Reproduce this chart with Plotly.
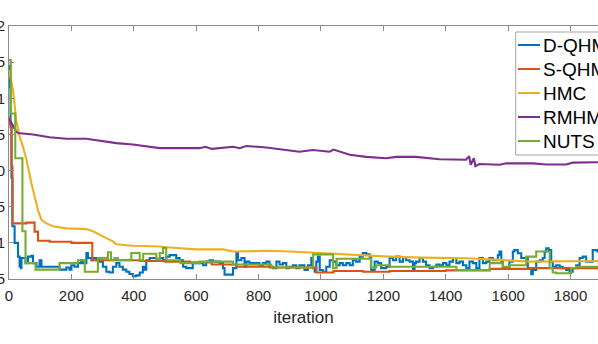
import plotly.graph_objects as go

# MATLAB-ish convergence plot (cropped left/right like the source figure)

names = ['D-QHM', 'S-QHM', 'HMC', 'RMHMC', 'NUTS']
colors = ['#0072BD', '#D95319', '#EDB120', '#7E2F8E', '#77AC30']

dqhm_iter = [0, 2, 5, 8, 11, 18, 29, 34, 39, 40, 53, 61, 72, 77, 88, 98, 104, 162, 184, 194,
             200, 210, 221, 231, 237, 248, 253, 264, 269, 280, 290, 301, 312, 322, 333, 344, 354,
             365, 376, 386, 397, 408, 419, 429, 435, 440, 451, 472, 483, 494, 504, 515, 536, 547,
             558, 568, 589,
             600, 622, 632, 643, 654, 675, 686, 691, 718, 729, 734, 745, 755, 761, 771, 803, 814,
             825, 835, 846, 857, 867, 878, 889, 899, 910, 921, 931, 947, 958, 969, 974, 980, 985,
             990, 996, 1006, 1017, 1028, 1038, 1049, 1060, 1070, 1081, 1092, 1102, 1113, 1124,
             1134, 1145, 1156, 1161, 1172, 1182, 1193, 1209,
             1220, 1231, 1241, 1252, 1263, 1273, 1284, 1295, 1300, 1305, 1316, 1327, 1337, 1348,
             1359, 1370, 1380, 1391, 1402, 1412, 1423, 1434, 1444, 1455, 1466, 1476, 1487, 1498,
             1508, 1519, 1530, 1540, 1551, 1567, 1572, 1578, 1583, 1604, 1615, 1620, 1631, 1642,
             1663, 1674, 1679, 1690, 1701, 1711, 1717, 1722, 1730, 1738, 1743, 1754, 1765, 1775,
             1786, 1797, 1807, 1818, 1829, 1839, 1850, 1871, 1886, 1900, 1930, 1960, 2000]
dqhm_val = [1.45, 1.15, 0.6, -0.1, -0.77, -1.0, -1.19, -1.33, -1.35, -1.21, -1.28, -1.19, -1.18,
            -1.28, -1.33, -1.24, -1.33, -1.37, -1.34, -1.37, -1.31, -1.33, -1.28, -1.24, -1.28,
            -1.14, -1.21, -1.24, -1.21, -1.24, -1.26, -1.33, -1.40, -1.41, -1.33, -1.28, -1.33,
            -1.37, -1.40, -1.43, -1.46, -1.45, -1.41, -1.33, -1.37, -1.24, -1.21, -1.24, -1.21,
            -1.24, -1.19, -1.17, -1.21, -1.24, -1.33, -1.35, -1.28,
            -1.28, -1.31, -1.26, -1.24, -1.26, -1.28, -1.35, -1.44, -1.35, -1.14, -1.24, -1.21,
            -1.33, -1.26, -1.28, -1.31, -1.28, -1.26, -1.33, -1.35, -1.26, -1.30, -1.28, -1.35,
            -1.33, -1.31, -1.35, -1.31, -1.375, -1.31, -1.21, -1.35, -1.40, -1.26, -1.19, -1.375,
            -1.40, -1.33, -1.24, -1.26, -1.31, -1.28, -1.31, -1.28, -1.31, -1.24, -1.26, -1.19,
            -1.14, -1.16, -1.19, -1.375, -1.26, -1.28, -1.35, -1.33,
            -1.21, -1.24, -1.19, -1.26, -1.20, -1.24, -1.26, -1.36, -1.28, -1.26, -1.21, -1.26,
            -1.31, -1.35, -1.33, -1.30, -1.31, -1.28, -1.31, -1.26, -1.21, -1.28, -1.26, -1.31,
            -1.35, -1.26, -1.28, -1.35, -1.21, -1.28, -1.26, -1.21, -1.24, -1.17, -1.12, -1.26,
            -1.35, -1.26, -1.12, -1.10, -1.144, -1.21, -1.35, -1.435, -1.375, -1.26, -1.24, -1.21,
            -1.12, -1.075, -1.10, -1.26, -1.33, -1.31, -1.33, -1.35, -1.375, -1.40, -1.35, -1.31,
            -1.21, -1.19, -1.26, -1.10, -1.12, -1.15, -1.22, -1.18, -1.20]

sqhm_iter = [0, 3, 8, 11, 56, 82, 93, 130, 200, 267, 419, 500, 580, 650, 729, 836, 985, 1040,
             1135, 1220, 1400, 1541, 1669, 1900, 2000]
sqhm_val = [0.73, 0.64, 0.06, -0.73, -0.72, -0.845, -0.97, -0.985, -1.0, -1.24, -1.25, -1.26,
            -1.27, -1.30, -1.33, -1.34, -1.41, -1.39, -1.40, -1.39, -1.38, -1.36, -1.35, -1.35,
            -1.35]

hmc_iter = [0, 13, 23, 34, 45, 56, 72, 82, 93, 104, 120, 141, 184, 248, 269, 301, 333, 344, 397,
            483, 504, 600, 687, 718, 836, 900, 1006, 1135, 1220, 1327, 1467, 1573, 1669, 1887,
            2000]
hmc_val = [1.39, 1.11, 0.70, 0.47, 0.33, 0.15, -0.18, -0.36, -0.55, -0.68, -0.73, -0.77, -0.80,
           -0.81, -0.84, -0.91, -0.98, -1.02, -1.04, -1.05, -1.06, -1.09, -1.09, -1.12, -1.11,
           -1.12, -1.144, -1.176, -1.19, -1.204, -1.213, -1.236, -1.26, -1.25, -1.25]

rmhmc_iter = [0, 13, 23, 29, 77, 130, 184, 248, 290, 344, 397, 451, 483, 611, 630, 650, 718, 740,
              760, 825, 878, 931, 974, 1000, 1028, 1040, 1092, 1145, 1209, 1241, 1305, 1380, 1465,
              1475, 1480, 1490, 1495, 1508, 1572, 1594, 1679, 1722, 1786, 1807, 1887, 2000]
rmhmc_val = [0.72, 0.62, 0.54, 0.52, 0.50, 0.46, 0.44, 0.44, 0.41, 0.38, 0.36, 0.33, 0.31, 0.31,
             0.33, 0.30, 0.33, 0.31, 0.34, 0.32, 0.29, 0.26, 0.285, 0.27, 0.26, 0.29, 0.22, 0.19,
             0.17, 0.19, 0.19, 0.156, 0.15, 0.20, 0.08, 0.17, 0.06, 0.09, 0.08, 0.10, 0.10, 0.085,
             0.085, 0.11, 0.115, 0.12]

nuts_iter = [0, 6, 20, 43, 53, 85, 162, 221, 243, 285, 317, 327, 338, 349, 392, 419, 430, 472,
             483, 494, 504, 550, 611, 718, 841, 975, 1039, 1050, 1160, 1177, 1220, 1434, 1541,
             1583, 1604, 1658, 1690, 1733, 1743, 1754, 1802, 1818, 2000]
nuts_val = [1.53, 0.79, 0.17, -0.84, -1.28, -1.37, -1.28, -1.24, -1.40, -1.21, -1.13, -1.24,
            -1.21, -1.24, -1.14, -1.24, -1.15, -1.23, -1.14, -1.07, -1.24, -1.28, -1.26, -1.30,
            -1.34, -1.16, -1.35, -1.22, -1.34, -1.31, -1.33, -1.375, -1.28, -1.33, -1.31, -1.19,
            -1.12, -1.35, -1.41, -1.42, -1.35, -1.33, -1.33]

series = [(dqhm_iter, dqhm_val, 'hv'), (sqhm_iter, sqhm_val, 'hv'), (hmc_iter, hmc_val, 'linear'),
          (rmhmc_iter, rmhmc_val, 'linear'), (nuts_iter, nuts_val, 'hv')]

W, H = 598, 344
L, R, T, B = 9, 0, 26, 65
pw, ph = W - L - R, H - T - B

fig = go.Figure()
for (xs, ys, shape), name, col in zip(series, names, colors):
    fig.add_trace(go.Scatter(x=xs, y=ys, mode='lines', name=name, showlegend=False,
                             hoverinfo='skip', line=dict(color=col, width=2.1, shape=shape)))

axis_col = '#8c8c8c'
txt_col = '#262626'
fnt = 'Liberation Sans, Arial, Helvetica, sans-serif'

fig.update_xaxes(range=[0, 1888], tick0=0, dtick=200, ticks='inside', ticklen=5,
                 tickcolor=axis_col, showline=True, linecolor=axis_col, linewidth=1,
                 mirror='ticks', showgrid=False, zeroline=False, ticklabelstandoff=3,
                 tickfont=dict(size=15, color=txt_col, family=fnt),
                 title=dict(text='iteration', font=dict(size=17, color=txt_col, family=fnt),
                            standoff=8))
fig.update_yaxes(range=[-1.5, 2], tick0=0, dtick=0.5, ticks='inside', ticklen=5,
                 tickcolor=axis_col, showline=True, linecolor=axis_col, linewidth=1,
                 mirror=False, showgrid=False, zeroline=False,
                 tickfont=dict(size=15, color=txt_col, family=fnt))

# hand-made legend box (MATLAB style, clipped at the right edge)
def px(x):
    return (x - L) / pw

def py(y):
    return (H - B - y) / ph

shapes = [dict(type='rect', xref='paper', yref='paper', x0=px(515.7), x1=px(640),
               y0=py(155), y1=py(32), line=dict(color='#a6a6a6', width=1),
               fillcolor='white', layer='above')]
annotations = []
for i, (name, col) in enumerate(zip(names, colors)):
    yy = 45 + 24 * i
    shapes.append(dict(type='line', xref='paper', yref='paper', x0=px(518), x1=px(540),
                       y0=py(yy), y1=py(yy), line=dict(color=col, width=2), layer='above'))
    annotations.append(dict(xref='paper', yref='paper', x=px(541), y=py(yy), text=name,
                            showarrow=False, xanchor='left', yanchor='middle',
                            font=dict(size=19, color='black', family=fnt)))

fig.update_layout(width=W, height=H, margin=dict(l=L, r=R, t=T, b=B, autoexpand=False),
                  plot_bgcolor='white', paper_bgcolor='white', hovermode=False,
                  shapes=shapes, annotations=annotations)

fig.write_html('out.html', config={'displayModeBar': False},
               post_script="document.body.style.margin='0';document.body.style.overflow='hidden';")
